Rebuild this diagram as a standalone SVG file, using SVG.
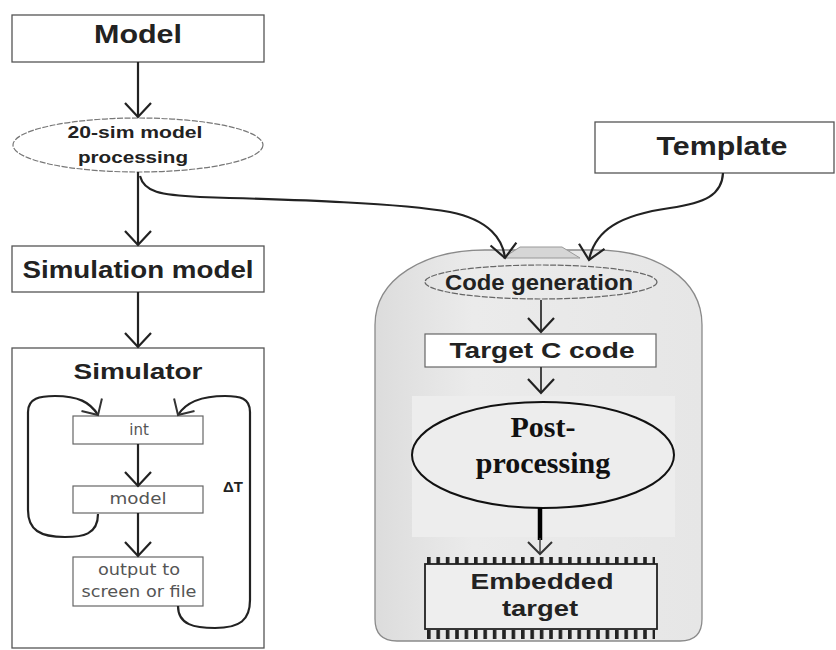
<svg xmlns="http://www.w3.org/2000/svg" width="836" height="650" viewBox="0 0 836 650">
<defs>
<marker id="arr" markerUnits="userSpaceOnUse" markerWidth="30" markerHeight="30" viewBox="-16 -15 18 30" refX="0" refY="0" orient="auto">
<path d="M-14,-13 L0,0 L-14,13" fill="none" stroke="#222" stroke-width="2.2"/>
</marker>
<marker id="arrs" markerUnits="userSpaceOnUse" markerWidth="30" markerHeight="30" viewBox="-16 -15 18 30" refX="0" refY="0" orient="auto">
<path d="M-12,-12 L0,0 L-12,12" fill="none" stroke="#333" stroke-width="2"/>
</marker>
<linearGradient id="cg" x1="0" y1="0" x2="1" y2="0">
<stop offset="0" stop-color="#dcdcdc"/>
<stop offset="0.3" stop-color="#ebebeb"/>
<stop offset="1" stop-color="#e6e6e6"/>
</linearGradient>
<pattern id="pins" patternUnits="userSpaceOnUse" x="427" y="0" width="9.4" height="20">
<rect x="0" y="0" width="3.6" height="20" fill="#222"/>
</pattern>
<style>
.box{fill:#fff;stroke:#555;stroke-width:1.3}
.ibox{fill:#fff;stroke:#666;stroke-width:1.2}
.hd{font-family:"Liberation Sans",Arial,sans-serif;font-weight:bold;fill:#222;text-anchor:middle}
.sm{font-family:"DejaVu Sans","Liberation Sans",sans-serif;fill:#555;text-anchor:middle;font-size:15px}
.pp{font-family:"Liberation Serif","Times New Roman",serif;font-weight:bold;fill:#111;text-anchor:middle;font-size:30px}
.ln{fill:none;stroke:#222;stroke-width:2.2}
</style>
</defs>
<rect width="836" height="650" fill="#fff"/>

<g id="container">
<path d="M375,325 C375,278 425,250 485,250 L595,250 C655,250 702,278 702,325 L702,619 Q702,641 680,641 L397,641 Q375,641 375,619 Z" fill="url(#cg)" stroke="#8a8a8a" stroke-width="1.3"/>
<polygon points="503,258 520,247 562,247 580,258" fill="#d6d6d6" stroke="#999" stroke-width="1"/>
<rect x="412" y="396" width="263" height="141" fill="#ededed"/>
</g>

<g id="model">
<rect class="box" x="12" y="15" width="252" height="47"/>
<text class="hd" x="138" y="43" font-size="25" textLength="88" lengthAdjust="spacingAndGlyphs">Model</text>
</g>

<g id="processing">
<ellipse cx="138" cy="145" rx="125" ry="27" fill="#fff" stroke="#777" stroke-width="1.2" stroke-dasharray="6 1.5"/>
<text class="hd" x="135" y="138" font-size="16" textLength="135" lengthAdjust="spacingAndGlyphs">20-sim model</text>
<text class="hd" x="133" y="163" font-size="16" textLength="110" lengthAdjust="spacingAndGlyphs">processing</text>
</g>

<g id="template">
<rect class="box" x="595" y="122" width="239" height="51"/>
<text class="hd" x="722" y="155" font-size="25" textLength="131" lengthAdjust="spacingAndGlyphs">Template</text>
</g>

<g id="simmodel">
<rect class="box" x="12" y="246" width="252" height="46"/>
<text class="hd" x="138" y="278" font-size="23" textLength="231" lengthAdjust="spacingAndGlyphs">Simulation model</text>
</g>

<g id="simulator">
<rect class="box" x="12" y="348" width="252" height="300"/>
<text class="hd" x="138" y="379" font-size="22" textLength="129" lengthAdjust="spacingAndGlyphs">Simulator</text>
</g>

<g id="int">
<rect class="ibox" x="73" y="416" width="130" height="28"/>
<text class="sm" x="139" y="435">int</text>
</g>

<g id="model2">
<rect class="ibox" x="73" y="486" width="130" height="27"/>
<text class="sm" x="138" y="504" textLength="57" lengthAdjust="spacingAndGlyphs">model</text>
</g>

<g id="output">
<rect class="ibox" x="73" y="557" width="130" height="49"/>
<text class="sm" x="139" y="575" textLength="82" lengthAdjust="spacingAndGlyphs">output to</text>
<text class="sm" x="139" y="597" textLength="115" lengthAdjust="spacingAndGlyphs">screen or file</text>
</g>

<g id="deltaT">
<text x="223" y="492" font-family="Liberation Sans,Arial,sans-serif" font-weight="bold" font-size="15" fill="#222">ΔT</text>
</g>

<g id="codegen">
<ellipse cx="541" cy="282" rx="116" ry="17" fill="none" stroke="#666" stroke-width="1.2" stroke-dasharray="6 1.5"/>
<text class="hd" x="539" y="290" font-size="22" textLength="188" lengthAdjust="spacingAndGlyphs">Code generation</text>
</g>

<g id="targetc">
<rect class="ibox" x="425" y="334" width="231" height="33" fill="#eee"/>
<text class="hd" x="542" y="358" font-size="22" textLength="185" lengthAdjust="spacingAndGlyphs">Target C code</text>
</g>

<g id="postproc">
<ellipse cx="543" cy="455" rx="131" ry="53" fill="none" stroke="#111" stroke-width="2"/>
<text class="pp" x="543" y="437">Post-</text>
<text class="pp" x="543" y="473">processing</text>
</g>

<g id="embedded">
<rect x="427" y="557" width="228" height="7" fill="url(#pins)"/>
<rect x="427" y="630" width="228" height="9" fill="url(#pins)"/>
<rect x="425" y="564" width="232" height="65" fill="#eee" stroke="#222" stroke-width="1.8"/>
<text class="hd" x="542" y="589" font-size="22" textLength="143" lengthAdjust="spacingAndGlyphs">Embedded</text>
<text class="hd" x="540" y="616" font-size="22" textLength="76" lengthAdjust="spacingAndGlyphs">target</text>
</g>

<g id="connectors">
<line class="ln" x1="138" y1="62" x2="138" y2="117" marker-end="url(#arr)"/>
<line class="ln" x1="138" y1="172" x2="138" y2="245" marker-end="url(#arr)"/>
<line class="ln" x1="138" y1="292" x2="138" y2="347" marker-end="url(#arr)"/>
<path class="ln" d="M140,176 C144,192 160,195 200,197 C300,200 400,203 450,212 C490,220 503,240 505,258" marker-end="url(#arr)"/>
<path class="ln" d="M723,173 C722,195 705,203 670,208 C620,215 595,230 589,260" marker-end="url(#arr)"/>
<line class="ln" x1="138" y1="444" x2="138" y2="486" marker-end="url(#arr)"/>
<line class="ln" x1="138" y1="513" x2="138" y2="556" marker-end="url(#arr)"/>
<path class="ln" d="M98,514 C98,535 82,537 65,537 C40,537 28,530 28,510 L28,412 C28,398 40,396 55,396 C78,396 90,402 98,415" marker-end="url(#arrs)"/>
<path class="ln" d="M178,606 C178,625 195,628 215,628 C240,628 250,620 250,600 L250,412 C250,398 240,396 225,396 C202,396 186,402 178,415" marker-end="url(#arrs)"/>
<line x1="541" y1="300" x2="541" y2="332" stroke="#333" stroke-width="1.8" marker-end="url(#arr)"/>
<line x1="541" y1="367" x2="541" y2="393" stroke="#333" stroke-width="1.8" marker-end="url(#arr)"/>
<line x1="540" y1="508" x2="540" y2="540" stroke="#000" stroke-width="4.5"/>
<line x1="540" y1="538" x2="540" y2="554" stroke="#444" stroke-width="1.5" marker-end="url(#arrs)"/>
</g>
</svg>
